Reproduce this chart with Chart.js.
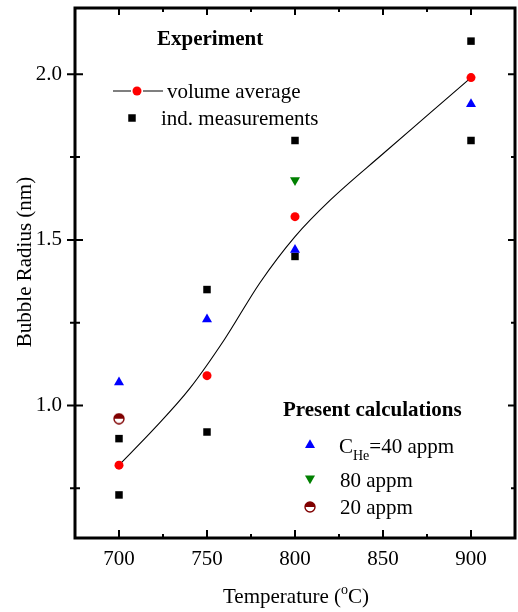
<!DOCTYPE html>
<html>
<head>
<meta charset="utf-8">
<script src="https://cdn.jsdelivr.net/npm/chart.js"></script>
<style>
  html, body { margin: 0; padding: 0; background: #fff; }
  #wrap { width: 518px; height: 612px; }
</style>
</head>
<body>
<div id="wrap"><canvas id="chart" width="518" height="612"></canvas></div>
<script>
// values: temperature (°C) vs bubble radius (nm)
const avgTemp = [700, 750, 800, 900];
const avgRadius = [0.82, 1.09, 1.57, 1.99];

const measTemp = [700, 700, 750, 750, 800, 800, 900, 900];
const measRadius = [0.90, 0.73, 1.35, 0.92, 1.80, 1.45, 2.10, 1.80];

const calc40Temp = [700, 750, 800, 900];
const calc40Radius = [1.07, 1.26, 1.47, 1.91];

const calc80Temp = [800];
const calc80Radius = [1.68];

const calc20Temp = [700];
const calc20Radius = [0.96];

// guide curve through the averages
const curveTemp = [700, 720, 740, 760, 780, 800, 820, 850, 875, 900];
const curveRadius = [0.82, 0.93, 1.05, 1.20, 1.37, 1.51, 1.62, 1.76, 1.875, 1.99];

const xMajor = [700, 750, 800, 850, 900];
const xMinor = [725, 775, 825, 875];
const yMajor = [1.0, 1.5, 2.0];
const yMinor = [0.75, 1.25, 1.75];

const FONT = '"Liberation Serif", "Times New Roman", Times, serif';
const DARKRED = '#800000';

function pts(xs, ys) {
    return xs.map((x, i) => ({x: x, y: ys[i]}))
}

// half filled circle used for the 20 appm point
function halfCircle(size, color) {
    const c = document.createElement('canvas');
    c.width = size;
    c.height = size;
    const g = c.getContext('2d');
    const m = size / 2, r = size / 2 - 1;
    g.beginPath(); g.arc(m, m, r, 0, Math.PI * 2); g.fillStyle = '#fff'; g.fill();
    g.beginPath(); g.arc(m, m, r, Math.PI, 0); g.closePath(); g.fillStyle = color; g.fill();
    g.beginPath(); g.arc(m, m, r, 0, Math.PI * 2); g.strokeStyle = color; g.lineWidth = 1.4; g.stroke();
    return c;
}
const halfImg = halfCircle(12, DARKRED);

function marker(ctx, x, y, style, radius, color, rotation) {
    ctx.save();
    ctx.fillStyle = color;
    ctx.strokeStyle = color;
    Chart.helpers.drawPoint(ctx, {pointStyle: style, radius: radius, rotation: rotation || 0, borderWidth: 0}, x, y);
    ctx.restore();
}

const framePlugin = {
    id: 'frame',
    afterDraw(chart) {
        const ctx = chart.ctx;
        const a = chart.chartArea;
        const xs = chart.scales.x, ys = chart.scales.y;
        ctx.save();
        ctx.strokeStyle = '#000';
        ctx.lineWidth = 3;
        ctx.strokeRect(a.left, a.top, a.right - a.left, a.bottom - a.top);

        ctx.lineWidth = 2;
        ctx.beginPath();
        xMajor.forEach(v => {
            const px = xs.getPixelForValue(v);
            ctx.moveTo(px, a.bottom); ctx.lineTo(px, a.bottom - 8);
            ctx.moveTo(px, a.top); ctx.lineTo(px, a.top + 7);
        });
        xMinor.forEach(v => {
            const px = xs.getPixelForValue(v);
            ctx.moveTo(px, a.bottom); ctx.lineTo(px, a.bottom - 4);
            ctx.moveTo(px, a.top); ctx.lineTo(px, a.top + 4);
        });
        yMajor.forEach(v => {
            const py = ys.getPixelForValue(v);
            ctx.moveTo(a.left - 8, py); ctx.lineTo(a.left + 8, py);
            ctx.moveTo(a.right, py); ctx.lineTo(a.right - 7, py);
        });
        yMinor.forEach(v => {
            const py = ys.getPixelForValue(v);
            ctx.moveTo(a.left - 5, py); ctx.lineTo(a.left + 5, py);
            ctx.moveTo(a.right, py); ctx.lineTo(a.right - 4, py);
        });
        ctx.stroke();

        ctx.fillStyle = '#000';
        ctx.textBaseline = 'alphabetic';

        // axis titles
        ctx.save();
        ctx.font = '21px ' + FONT;
        ctx.translate(31, 262);
        ctx.rotate(-Math.PI / 2);
        ctx.textAlign = 'center';
        ctx.fillText('Bubble Radius (nm)', 0, 0);
        ctx.restore();

        const p1 = 'Temperature (', p3 = 'C)';
        ctx.font = '14px ' + FONT;
        const w2 = ctx.measureText('o').width;
        ctx.font = '21px ' + FONT;
        const w1 = ctx.measureText(p1).width, w3 = ctx.measureText(p3).width;
        let tx = 296 - (w1 + w2 + w3) / 2;
        ctx.fillText(p1, tx, 603);
        ctx.font = '14px ' + FONT;
        ctx.fillText('o', tx + w1, 594);
        ctx.font = '21px ' + FONT;
        ctx.fillText(p3, tx + w1 + w2, 603);

        // experiment legend
        ctx.font = 'bold 21px ' + FONT;
        ctx.fillText('Experiment', 157, 45);
        ctx.font = '21px ' + FONT;
        ctx.lineWidth = 1.2;
        ctx.beginPath();
        ctx.moveTo(113, 91); ctx.lineTo(131, 91);
        ctx.moveTo(143, 91); ctx.lineTo(163, 91);
        ctx.stroke();
        marker(ctx, 137, 91, 'circle', 4.5, '#ff0000');
        ctx.fillText('volume average', 167, 98);
        marker(ctx, 132, 118, 'rect', 5.3, '#000');
        ctx.fillStyle = '#000';
        ctx.fillText('ind. measurements', 161, 125);

        // calculation legend
        ctx.font = 'bold 21px ' + FONT;
        ctx.fillText('Present calculations', 283, 416);
        marker(ctx, 310, 445, 'triangle', 5.8, '#0000ff');
        marker(ctx, 310, 478.5, 'triangle', 5.8, '#008000', 180);
        marker(ctx, 310, 507, halfImg, 6, DARKRED);
        ctx.fillStyle = '#000';
        ctx.font = '21px ' + FONT;
        ctx.fillText('C', 339, 453);
        let cx = 339 + ctx.measureText('C').width;
        ctx.font = '14px ' + FONT;
        ctx.fillText('He', cx, 460);
        cx += ctx.measureText('He').width;
        ctx.font = '21px ' + FONT;
        ctx.fillText('=40 appm', cx, 453);
        ctx.fillText('80 appm', 340, 487);
        ctx.fillText('20 appm', 340, 514);
        ctx.restore();
    }
};

new Chart(document.getElementById('chart'), {
    type: 'scatter',
    data: {
        datasets: [
            {
                label: 'volume average',
                data: pts(avgTemp, avgRadius),
                pointStyle: 'circle',
                pointRadius: 4.5,
                backgroundColor: '#ff0000',
                borderColor: '#ff0000',
                borderWidth: 0
            },
            {
                label: 'C_He=40 appm',
                data: pts(calc40Temp, calc40Radius),
                pointStyle: 'triangle',
                pointRadius: 5.8,
                backgroundColor: '#0000ff',
                borderColor: '#0000ff',
                borderWidth: 0
            },
            {
                label: 'ind. measurements',
                data: pts(measTemp, measRadius),
                pointStyle: 'rect',
                pointRadius: 5.3,
                backgroundColor: '#000',
                borderColor: '#000',
                borderWidth: 0
            },
            {
                label: '80 appm',
                data: pts(calc80Temp, calc80Radius),
                pointStyle: 'triangle',
                rotation: 180,
                pointRadius: 5.8,
                backgroundColor: '#008000',
                borderColor: '#008000',
                borderWidth: 0
            },
            {
                label: '20 appm',
                data: pts(calc20Temp, calc20Radius),
                pointStyle: halfImg,
                pointRadius: 6
            },
            {
                label: 'fit',
                data: pts(curveTemp, curveRadius),
                showLine: true,
                pointRadius: 0,
                borderColor: '#000',
                borderWidth: 1.1,
                cubicInterpolationMode: 'monotone',
                fill: false
            }
        ]
    },
    options: {
        responsive: false,
        animation: false,
        layout: {autoPadding: false, padding: {left: 0, right: 3, top: 8, bottom: 0}},
        plugins: {
            legend: {display: false},
            tooltip: {enabled: false}
        },
        scales: {
            x: {
                type: 'linear',
                min: 675,
                max: 925,
                afterFit: (scale) => {
                    scale.height = 74;
                    scale.paddingLeft = 0;
                    scale.paddingRight = 0;
                },
                afterBuildTicks: (scale) => { scale.ticks = xMajor.map(v => ({value: v})) },
                grid: {display: false, drawTicks: false},
                border: {display: false},
                ticks: {
                    color: '#000',
                    padding: 9,
                    maxRotation: 0,
                    font: {family: FONT, size: 21},
                    callback: (value) => String(value)
                }
            },
            y: {
                type: 'linear',
                min: 0.6,
                max: 2.2,
                afterFit: (scale) => {
                    scale.width = 75;
                    scale.paddingTop = 0;
                    scale.paddingBottom = 0;
                },
                afterBuildTicks: (scale) => { scale.ticks = yMajor.map(v => ({value: v})) },
                grid: {display: false, drawTicks: false},
                border: {display: false},
                ticks: {
                    color: '#000',
                    padding: 13,
                    font: {family: FONT, size: 21},
                    callback: (value) => Number(value).toFixed(1)
                }
            }
        }
    },
    plugins: [framePlugin]
});
</script>
</body>
</html>
